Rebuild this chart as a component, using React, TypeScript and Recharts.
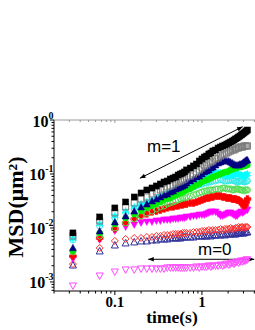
import { ScatterChart, Scatter, XAxis, YAxis, ReferenceLine } from "recharts";

// lag times (s), frame rate 30 fps
const TIMES = [
  0.033, 0.067, 0.1, 0.133, 0.167, 0.2, 0.233, 0.267, 0.3, 0.333, 0.367, 0.4, 0.433, 0.467, 0.5, 0.533, 0.567, 0.6, 0.633, 0.667,
  0.733, 0.8, 0.867, 0.933, 1.0, 1.067, 1.133, 1.2, 1.267, 1.333,
  1.433, 1.533, 1.633, 1.733, 1.833, 1.933, 2.033, 2.133, 2.233, 2.333, 2.433, 2.533, 2.633, 2.733, 2.833, 2.933, 3.033, 3.133, 3.233, 3.333,
];

const MSD_BLACK = [
  0.0081, 0.016, 0.0235, 0.0303, 0.0375, 0.0445, 0.0506, 0.0551, 0.06, 0.0653, 0.0711, 0.0742, 0.0808, 0.0843, 0.088, 0.0958, 0.1, 0.104, 0.109, 0.119,
  0.129, 0.141, 0.153, 0.174, 0.19, 0.206, 0.215, 0.235, 0.245, 0.267,
  0.278, 0.303, 0.316, 0.33, 0.344, 0.359, 0.375, 0.391, 0.408, 0.426, 0.445, 0.464, 0.484, 0.506, 0.528, 0.55, 0.575, 0.6, 0.626, 0.653,
];
const MSD_GREY = [
  0.0071, 0.0135, 0.019, 0.0245, 0.029, 0.0344, 0.0375, 0.0426, 0.0464, 0.0506, 0.0528, 0.0575, 0.06, 0.0626, 0.0681, 0.0711, 0.0742, 0.0774, 0.0808, 0.088,
  0.0918, 0.1, 0.109, 0.119, 0.129, 0.141, 0.147, 0.16, 0.167, 0.174,
  0.19, 0.198, 0.215, 0.225, 0.235, 0.245, 0.256, 0.267, 0.278, 0.278, 0.29, 0.303, 0.303, 0.316, 0.316, 0.316, 0.33, 0.33, 0.33, 0.33,
];
const MSD_NAVY = [
  0.0043, 0.0088, 0.0129, 0.0167, 0.0206, 0.0245, 0.0278, 0.0316, 0.0344, 0.0375, 0.0408, 0.0426, 0.0464, 0.0484, 0.0528, 0.0551, 0.0575, 0.06, 0.0626, 0.0681,
  0.0742, 0.0808, 0.088, 0.0918, 0.1, 0.109, 0.114, 0.119, 0.129, 0.135,
  0.147, 0.16, 0.167, 0.174, 0.182, 0.174, 0.174, 0.167, 0.16, 0.153, 0.147, 0.147, 0.147, 0.153, 0.153, 0.16, 0.167, 0.174, 0.182, 0.182,
];
const MSD_GREEN = [
  0.0038, 0.0081, 0.0119, 0.0153, 0.0182, 0.0206, 0.0235, 0.0256, 0.0278, 0.0303, 0.033, 0.0344, 0.0359, 0.0391, 0.0408, 0.0426, 0.0445, 0.0464, 0.0484, 0.0506,
  0.0528, 0.0575, 0.0626, 0.0653, 0.0711, 0.0742, 0.0774, 0.0808, 0.0843, 0.088,
  0.0918, 0.0958, 0.1, 0.104, 0.109, 0.109, 0.114, 0.119, 0.124, 0.124, 0.129, 0.129, 0.135, 0.135, 0.135, 0.141, 0.141, 0.141, 0.147, 0.147,
];
const MSD_CYAN = [
  0.0063, 0.0119, 0.0167, 0.0206, 0.0245, 0.0278, 0.0303, 0.033, 0.0359, 0.0391, 0.0408, 0.0445, 0.0464, 0.0484, 0.0506, 0.0528, 0.0551, 0.0575, 0.06, 0.0626,
  0.0681, 0.0742, 0.0808, 0.0843, 0.0918, 0.0958, 0.1, 0.104, 0.109, 0.109,
  0.109, 0.104, 0.104, 0.1, 0.0958, 0.0958, 0.0918, 0.0918, 0.0958, 0.0958, 0.1, 0.1, 0.1, 0.0958, 0.0958, 0.0918, 0.0918, 0.0958, 0.0958, 0.1,
];
const MSD_LIGHTCYAN = [
  0.006, 0.0109, 0.0153, 0.019, 0.0225, 0.0256, 0.0278, 0.0303, 0.033, 0.0344, 0.0375, 0.0391, 0.0408, 0.0426, 0.0445, 0.0464, 0.0484, 0.0506, 0.0528, 0.0528,
  0.0551, 0.0575, 0.06, 0.0626, 0.0653, 0.0681, 0.0681, 0.0711, 0.0711, 0.0742,
  0.0742, 0.0774, 0.0774, 0.0774, 0.0742, 0.0742, 0.0742, 0.0774, 0.0774, 0.0742, 0.0742, 0.0711, 0.0711, 0.0742, 0.0742, 0.0742, 0.0711, 0.0711, 0.0742, 0.0742,
];
const MSD_LIGHTGREEN = [
  0.0036, 0.0071, 0.01, 0.0124, 0.0147, 0.0167, 0.019, 0.0206, 0.0225, 0.0245, 0.0256, 0.0278, 0.029, 0.0303, 0.0316, 0.033, 0.0344, 0.0359, 0.0359, 0.0375,
  0.0391, 0.0408, 0.0426, 0.0445, 0.0464, 0.0484, 0.0484, 0.0506, 0.0506, 0.0506,
  0.0528, 0.0528, 0.0528, 0.0551, 0.0551, 0.0528, 0.0528, 0.0528, 0.0506, 0.0506, 0.0528, 0.0528, 0.0528, 0.0506, 0.0506, 0.0506, 0.0484, 0.0506, 0.0506, 0.0506,
];
const MSD_RED = [
  0.003, 0.0065, 0.0096, 0.0124, 0.0147, 0.0167, 0.0182, 0.0198, 0.0206, 0.0215, 0.0225, 0.0235, 0.0245, 0.0245, 0.0256, 0.0256, 0.0267, 0.0267, 0.0278, 0.0278,
  0.029, 0.029, 0.0303, 0.0316, 0.033, 0.0344, 0.0359, 0.0359, 0.0375, 0.0375,
  0.0391, 0.0391, 0.0391, 0.0375, 0.0375, 0.0359, 0.0359, 0.0359, 0.0344, 0.0344, 0.0344, 0.033, 0.033, 0.0316, 0.0303, 0.0278, 0.0256, 0.0267, 0.0303, 0.0344,
];
const MSD_MAGENTA = [
  0.00267, 0.006, 0.0088, 0.0104, 0.0114, 0.0124, 0.0129, 0.0129, 0.0135, 0.0135, 0.0141, 0.0141, 0.0141, 0.0147, 0.0147, 0.0147, 0.0153, 0.0153, 0.0153, 0.016,
  0.016, 0.0167, 0.0167, 0.0174, 0.0174, 0.0174, 0.0182, 0.019, 0.0198, 0.0198,
  0.0198, 0.0182, 0.0167, 0.0167, 0.0174, 0.0182, 0.019, 0.019, 0.0182, 0.0174, 0.0167, 0.0167, 0.0182, 0.019, 0.0198, 0.019, 0.0198, 0.0206, 0.0215, 0.0215,
];
const MSD_RED_OPEN = [
  0.00215, 0.00426, 0.00575, 0.00626, 0.00653, 0.00653, 0.00681, 0.00681, 0.00711, 0.00711, 0.00742, 0.00742, 0.00742, 0.00774, 0.00774, 0.00774, 0.00774, 0.00808, 0.00808, 0.00808,
  0.00808, 0.00843, 0.00843, 0.00843, 0.0088, 0.0088, 0.0088, 0.00918, 0.0088, 0.00918,
  0.00918, 0.00918, 0.00958, 0.00918, 0.00958, 0.00958, 0.00958, 0.01, 0.00958, 0.00958, 0.01, 0.01, 0.0104, 0.01, 0.0104, 0.0104, 0.01, 0.0104, 0.0104, 0.0104,
];
const MSD_NAVY_OPEN = [
  0.00206, 0.00375, 0.00484, 0.00528, 0.00551, 0.00575, 0.00575, 0.006, 0.006, 0.00626, 0.00626, 0.00626, 0.00653, 0.00653, 0.00653, 0.00653, 0.00653, 0.00681, 0.00681, 0.00681,
  0.00681, 0.00681, 0.00711, 0.00711, 0.00711, 0.00711, 0.00711, 0.00742, 0.00711, 0.00742,
  0.00742, 0.00742, 0.00742, 0.00774, 0.00742, 0.00774, 0.00774, 0.00774, 0.00808, 0.00774, 0.00774, 0.00808, 0.00808, 0.00808, 0.00843, 0.00808, 0.00808, 0.00843, 0.00843, 0.00843,
];
const MSD_MAGENTA_OPEN = [
  0.000843, 0.00129, 0.00153, 0.00167, 0.00167, 0.00174, 0.00174, 0.00174, 0.00174, 0.00174, 0.00174, 0.00182, 0.00182, 0.00182, 0.00182, 0.00182, 0.00182, 0.00182, 0.00182, 0.00182,
  0.00182, 0.00182, 0.0019, 0.00182, 0.0019, 0.0019, 0.0019, 0.00198, 0.0019, 0.00198,
  0.00198, 0.00198, 0.00206, 0.00198, 0.00206, 0.00215, 0.00206, 0.00215, 0.00225, 0.00215, 0.00225, 0.00235, 0.00225, 0.00235, 0.00245, 0.00235, 0.00245, 0.00245, 0.00256, 0.00256,
];

const X_TICKS = [0.02, 0.03, 0.04, 0.05, 0.06, 0.07, 0.08, 0.09, 0.1, 0.2, 0.3, 0.4, 0.5, 0.6, 0.7, 0.8, 0.9, 1, 2, 3, 4];
const X_MAJOR = [0.1, 1];
const X_LABELS = ["0.1", "1"];
const Y_TICKS = [
  0.0007, 0.0008, 0.0009, 0.001, 0.002, 0.003, 0.004, 0.005, 0.006, 0.007, 0.008, 0.009,
  0.01, 0.02, 0.03, 0.04, 0.05, 0.06, 0.07, 0.08, 0.09, 0.1, 0.2, 0.3, 0.4, 0.5, 0.6, 0.7, 0.8, 0.9, 1,
];
const Y_MAJOR = [0.001, 0.01, 0.1, 1];
const Y_EXPONENTS = ["-3", "-2", "-1", "0"];

// slope guides (data coordinates)
const GUIDE_M1 = [{ x: 0.194, y: 0.0833 }, { x: 2.94, y: 0.751 }];
const GUIDE_M0 = [{ x: 0.2415, y: 0.00263 }, { x: 3.99, y: 0.00263 }];

// drawn bottom -> top
const SERIES = [
  { key: "magOpen", values: MSD_MAGENTA_OPEN, color: "#FF4CFF", kind: "triDown", filled: false },
  { key: "navyOpen", values: MSD_NAVY_OPEN, color: "#2E2E9A", kind: "triUp", filled: false },
  { key: "redOpen", values: MSD_RED_OPEN, color: "#FF3030", kind: "diamond", filled: false },
  { key: "magenta", values: MSD_MAGENTA, color: "#FF00FF", kind: "triDown", filled: true },
  { key: "red", values: MSD_RED, color: "#FF0000", kind: "plus", filled: true },
  { key: "lightGreen", values: MSD_LIGHTGREEN, color: "#55DD55", kind: "circle", filled: false },
  { key: "lightCyan", values: MSD_LIGHTCYAN, color: "#33E8E8", kind: "circle", filled: false },
  { key: "cyan", values: MSD_CYAN, color: "#00FFFF", kind: "star", filled: true },
  { key: "green", values: MSD_GREEN, color: "#00EE00", kind: "circle", filled: true },
  { key: "navy", values: MSD_NAVY, color: "#000080", kind: "triUp", filled: true },
  { key: "grey", values: MSD_GREY, color: "#7A7A7A", kind: "square", filled: false },
  { key: "black", values: MSD_BLACK, color: "#000000", kind: "square", filled: true },
];

const SERIF = "'Liberation Serif', 'Times New Roman', serif";
const SANS = "'Liberation Sans', Arial, sans-serif";

function Marker({ cx, cy, kind, color, filled }: any) {
  if (cx == null || cy == null) return null;
  const r = 3;
  const fill = filled ? color : "none";
  const stroke = color;
  const sw = filled ? 0.5 : 1;
  if (kind === "square") {
    return <rect x={cx - r} y={cy - r} width={2 * r} height={2 * r} fill={fill} stroke={stroke} strokeWidth={sw} />;
  }
  if (kind === "circle") {
    return <circle cx={cx} cy={cy} r={r} fill={fill} stroke={stroke} strokeWidth={sw} />;
  }
  if (kind === "triUp") {
    const d = `M${cx},${cy - r - 0.5}L${cx + r + 0.5},${cy + r}L${cx - r - 0.5},${cy + r}Z`;
    return <path d={d} fill={fill} stroke={stroke} strokeWidth={sw} />;
  }
  if (kind === "triDown") {
    const d = `M${cx},${cy + r + 0.5}L${cx + r + 0.5},${cy - r}L${cx - r - 0.5},${cy - r}Z`;
    return <path d={d} fill={fill} stroke={stroke} strokeWidth={sw} />;
  }
  if (kind === "diamond") {
    const q = r + 0.5;
    const d = `M${cx},${cy - q}L${cx + q},${cy}L${cx},${cy + q}L${cx - q},${cy}Z`;
    return <path d={d} fill={fill} stroke={stroke} strokeWidth={sw} />;
  }
  if (kind === "plus") {
    const a = 1.4;
    const b = 3.4;
    const d = `M${cx - a},${cy - b}H${cx + a}V${cy - a}H${cx + b}V${cy + a}H${cx + a}V${cy + b}H${cx - a}V${cy + a}H${cx - b}V${cy - a}H${cx - a}Z`;
    return <path d={d} fill={fill} stroke={stroke} strokeWidth={sw} />;
  }
  // six point star
  const pts: string[] = [];
  for (let i = 0; i < 12; i++) {
    const rad = i % 2 === 0 ? 3.8 : 1.8;
    const ang = (Math.PI / 6) * i - Math.PI / 2;
    pts.push(`${cx + rad * Math.cos(ang)},${cy + rad * Math.sin(ang)}`);
  }
  return <polygon points={pts.join(" ")} fill={fill} stroke={stroke} strokeWidth={sw} />;
}

function LeftTick({ x, y, payload }: any) {
  const i = Y_MAJOR.indexOf(payload.value);
  const major = i >= 0;
  return (
    <g>
      <line x1={x - (major ? 4 : 2.5)} x2={x} y1={y} y2={y} stroke="#000" strokeWidth={1} />
      {major && (
        <text x={x - 0.5} y={y + 6.5} textAnchor="end" fontFamily={SERIF} fontWeight="bold" fontSize={16} fill="#000">
          10
          <tspan dy={-8} fontSize={10}>
            {Y_EXPONENTS[i]}
          </tspan>
        </text>
      )}
    </g>
  );
}

function BottomTick({ x, y, payload }: any) {
  const i = X_MAJOR.indexOf(payload.value);
  const major = i >= 0;
  return (
    <g>
      <line x1={x} x2={x} y1={y} y2={y + (major ? 4 : 2.5)} stroke="#000" strokeWidth={1} />
      {major && (
        <text x={x} y={y + 15.5} textAnchor="middle" fontFamily={SERIF} fontWeight="bold" fontSize={15} fill="#000">
          {X_LABELS[i]}
        </text>
      )}
    </g>
  );
}

function TopTick({ x, y, payload }: any) {
  const major = X_MAJOR.indexOf(payload.value) >= 0;
  return <line x1={x} x2={x} y1={y} y2={y + (major ? 3 : 2)} stroke="#999" strokeWidth={1} />;
}

function Arrow({ x1, y1, x2, y2 }: any) {
  if ([x1, y1, x2, y2].some((v) => v == null || Number.isNaN(v))) return null;
  const ang = Math.atan2(y2 - y1, x2 - x1);
  const len = 6;
  const spread = 0.38;
  const head = (tx: number, ty: number, dir: number) => {
    const ax = tx - dir * len * Math.cos(ang - spread);
    const ay = ty - dir * len * Math.sin(ang - spread);
    const bx = tx - dir * len * Math.cos(ang + spread);
    const by = ty - dir * len * Math.sin(ang + spread);
    return <path d={`M${tx},${ty}L${ax},${ay}L${bx},${by}Z`} fill="#000" />;
  };
  return (
    <g>
      <line x1={x1} y1={y1} x2={x2} y2={y2} stroke="#000" strokeWidth={1} />
      {head(x1, y1, -1)}
      {head(x2, y2, 1)}
    </g>
  );
}

export default function App() {
  return (
    <div style={{ position: "absolute", left: 0, top: 0, width: 255, height: 330, background: "#fff" }}>
      <ScatterChart width={255} height={330} margin={{ top: 119, right: 0, bottom: 38, left: 53 }}>
        <XAxis
          xAxisId="b"
          type="number"
          dataKey="t"
          scale="log"
          domain={[0.02, 4.07]}
          allowDataOverflow
          ticks={X_TICKS}
          interval={0}
          height={1}
          tickSize={0}
          tickMargin={0}
          tickLine={false}
          tick={<BottomTick />}
          axisLine={{ stroke: "#000", strokeWidth: 1 }}
        />
        <XAxis
          xAxisId="top"
          orientation="top"
          type="number"
          dataKey="t"
          scale="log"
          domain={[0.02, 4.07]}
          allowDataOverflow
          ticks={X_TICKS}
          interval={0}
          height={1}
          tickSize={0}
          tickMargin={0}
          tickLine={false}
          tick={<TopTick />}
          axisLine={{ stroke: "#999", strokeWidth: 1 }}
        />
        <YAxis
          type="number"
          dataKey="v"
          scale="log"
          domain={[0.00068, 1]}
          allowDataOverflow
          ticks={Y_TICKS}
          interval={0}
          width={1}
          tickSize={0}
          tickMargin={0}
          tickLine={false}
          tick={<LeftTick />}
          axisLine={{ stroke: "#000", strokeWidth: 1 }}
        />
        {SERIES.map((s) => (
          <Scatter
            key={s.key}
            xAxisId="b"
            data={TIMES.map((t, i) => ({ t, v: s.values[i] }))}
            isAnimationActive={false}
            shape={(p: any) => <Marker cx={p.cx} cy={p.cy} kind={s.kind} color={s.color} filled={s.filled} />}
          />
        ))}
        <ReferenceLine xAxisId="b" segment={GUIDE_M1} shape={(p: any) => <Arrow {...p} />} />
        <ReferenceLine xAxisId="b" segment={GUIDE_M0} shape={(p: any) => <Arrow {...p} />} />
      </ScatterChart>
      <svg width={255} height={330} style={{ position: "absolute", left: 0, top: 0, pointerEvents: "none" }}>
        <text x={147} y={152} fontFamily={SANS} fontSize={17} fill="#000">
          m=1
        </text>
        <text x={198} y={255} fontFamily={SANS} fontSize={17} fill="#000">
          m=0
        </text>
        <text
          x={23}
          y={207}
          transform="rotate(-90 23 207)"
          textAnchor="middle"
          fontFamily={SERIF}
          fontWeight="bold"
          fontSize={22}
          fill="#000"
        >
          MSD(μm²)
        </text>
        <text x={172} y={322.5} textAnchor="middle" fontFamily={SERIF} fontWeight="bold" fontSize={17.5} fill="#000">
          time(s)
        </text>
      </svg>
    </div>
  );
}
